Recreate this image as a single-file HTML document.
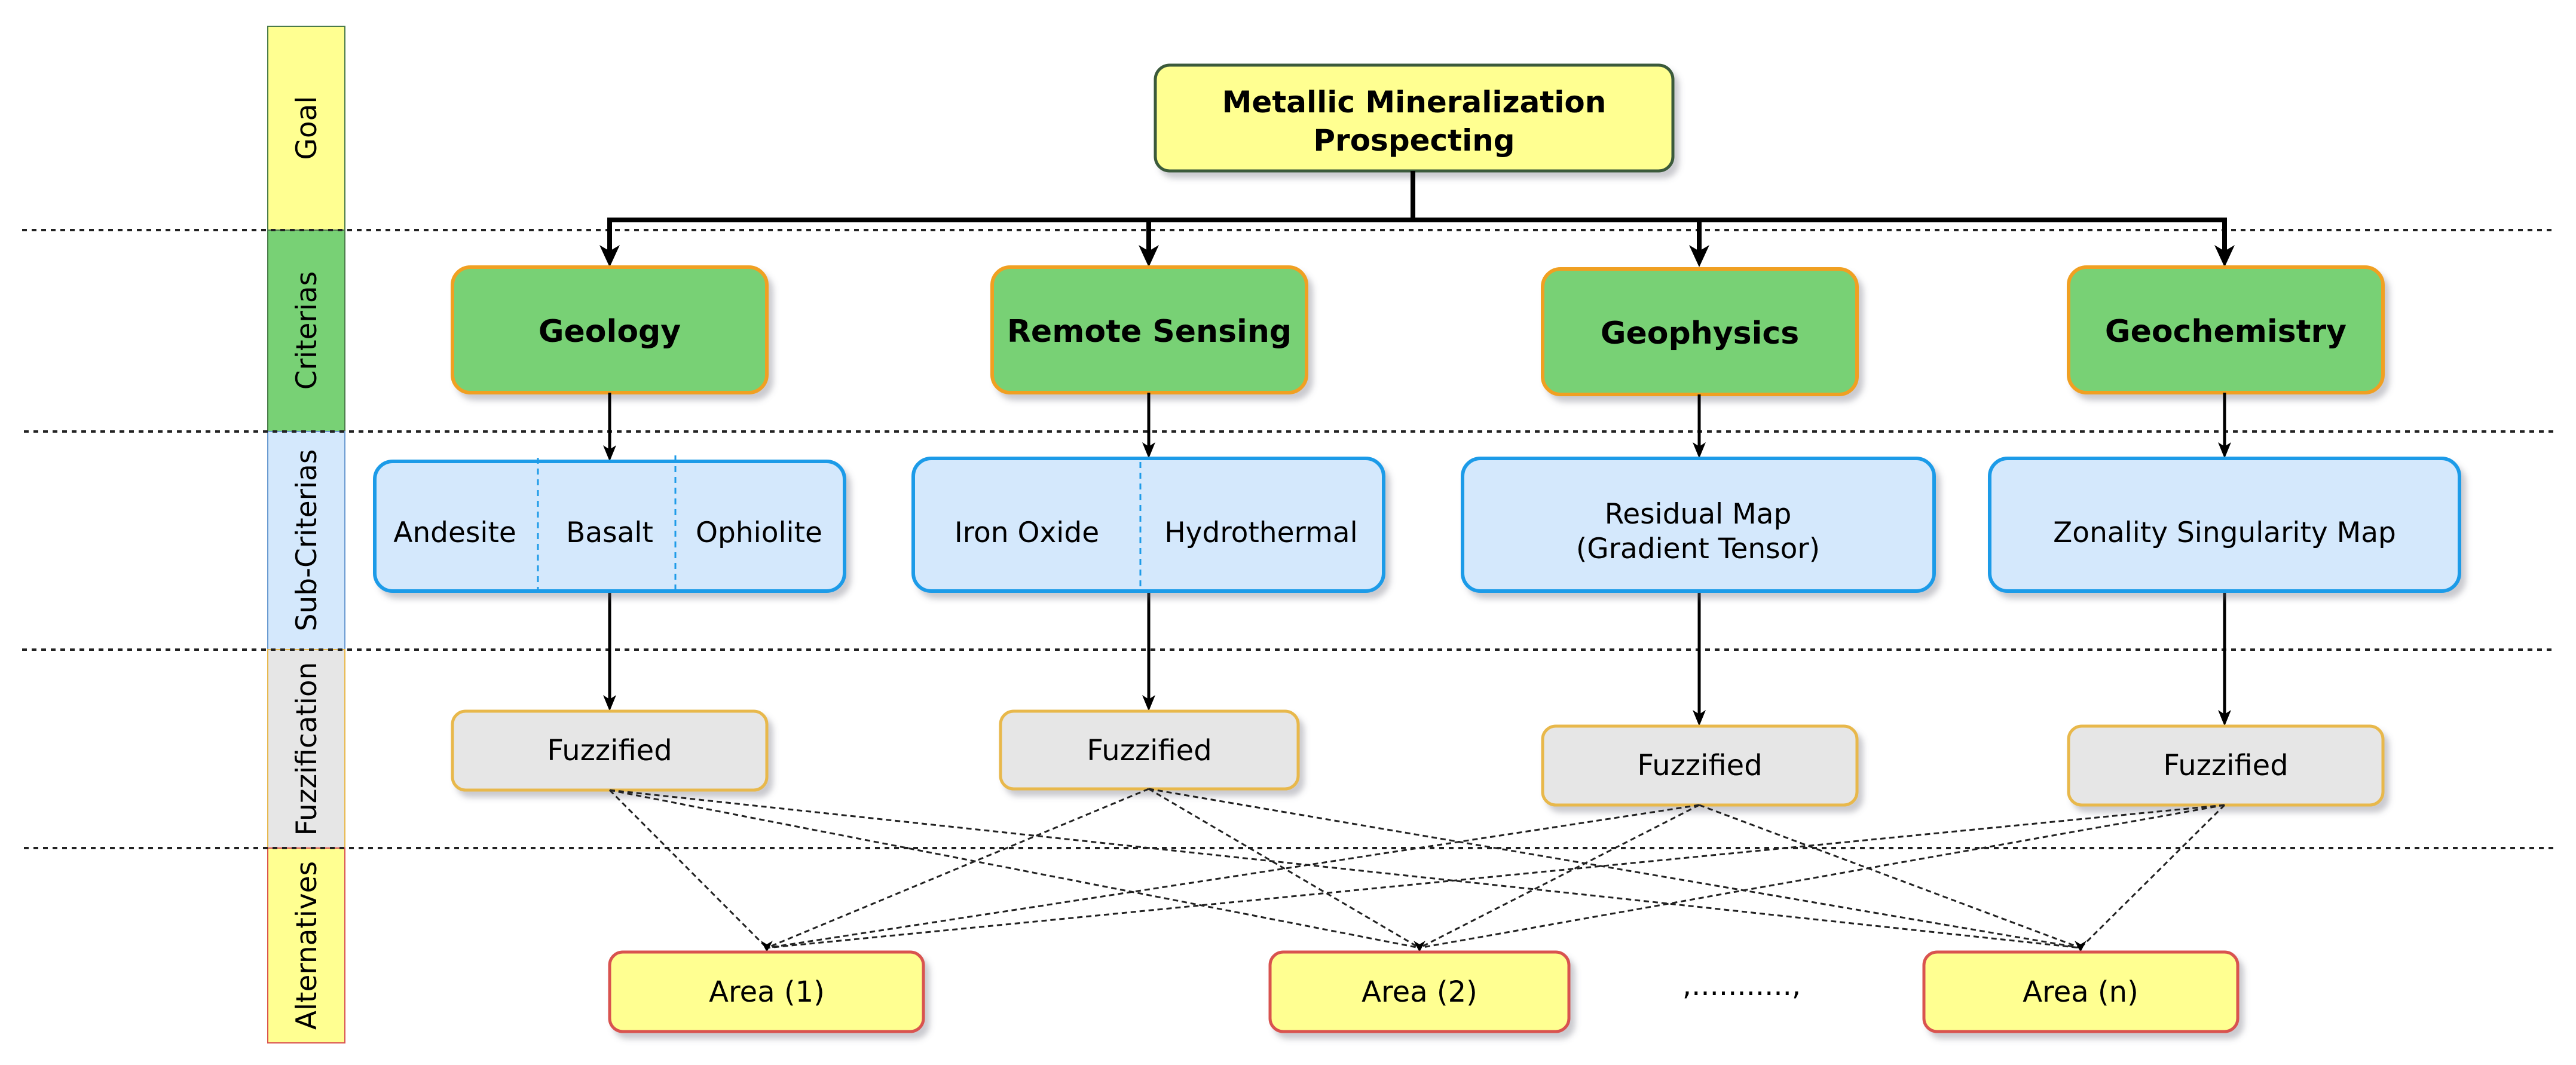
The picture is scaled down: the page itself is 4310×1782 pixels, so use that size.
<!DOCTYPE html>
<html><head><meta charset="utf-8"><style>
html,body{margin:0;padding:0;background:#fff;}
svg{display:block;}
text{font-family:"DejaVu Sans","Liberation Sans",sans-serif;fill:#000;}
</style></head><body>
<svg width="4310" height="1782" viewBox="0 0 4310 1782" xmlns="http://www.w3.org/2000/svg">
<defs>
<filter id="sh" x="-10%" y="-10%" width="130%" height="140%"><feDropShadow dx="8" dy="10" stdDeviation="5" flood-color="#667" flood-opacity="0.35"/></filter>
</defs>
<!-- side bar -->
<g stroke-width="2">
<rect x="448" y="44" width="129" height="341" fill="#ffff91" stroke="#4a7a4a"/>
<rect x="448" y="385" width="129" height="337" fill="#78d175" stroke="#4a7a4a"/>
<rect x="448" y="722" width="129" height="365" fill="#d4e8fc" stroke="#6a9ad0"/>
<rect x="448" y="1087" width="129" height="332" fill="#e6e6e6" stroke="#e8b84c"/>
<rect x="448" y="1419" width="129" height="326" fill="#ffff91" stroke="#d9534f"/>
</g>
<g font-size="47">
<text transform="translate(529,214) rotate(-90)" text-anchor="middle">Goal</text>
<text transform="translate(529,553) rotate(-90)" text-anchor="middle">Criterias</text>
<text transform="translate(529,904) rotate(-90)" text-anchor="middle">Sub-Criterias</text>
<text transform="translate(529,1253) rotate(-90)" text-anchor="middle">Fuzzification</text>
<text transform="translate(529,1582) rotate(-90)" text-anchor="middle">Alternatives</text>
</g>
<!-- dotted separators -->
<g stroke="#222" stroke-width="4" stroke-dasharray="8 8">
<line x1="37" y1="385" x2="4272" y2="385"/>
<line x1="40" y1="722" x2="4272" y2="722"/>
<line x1="37" y1="1087" x2="4272" y2="1087"/>
<line x1="40" y1="1419" x2="4272" y2="1419"/>
</g>
<!-- goal -->
<rect x="1933" y="109" width="866" height="177" rx="24" fill="#ffff91" stroke="#3a5a3a" stroke-width="5" filter="url(#sh)"/>
<text x="2366" y="188" font-size="50" font-weight="bold" text-anchor="middle">Metallic Mineralization</text>
<text x="2366" y="252" font-size="50" font-weight="bold" text-anchor="middle">Prospecting</text>
<!-- goal connectors -->
<g stroke="#000" stroke-width="8" fill="none">
<polyline points="2364,286 2364,368"/>
<polyline points="1020,430 1020,368 3722,368 3722,430"/>
<line x1="1922" y1="368" x2="1922" y2="430"/>
<line x1="2843" y1="368" x2="2843" y2="430"/>
</g>
<g fill="#000">
<path d="M1003,410 L1020,447 L1037,410 L1020,420Z"/>
<path d="M1905,410 L1922,447 L1939,410 L1922,420Z"/>
<path d="M2826,410 L2843,447 L2860,410 L2843,420Z"/>
<path d="M3705,410 L3722,447 L3739,410 L3722,420Z"/>
</g>
<!-- criteria -->
<g fill="#78d175" stroke="#f0a020" stroke-width="6" filter="url(#sh)">
<rect x="757" y="447" width="526" height="210" rx="30"/>
<rect x="1660" y="447" width="526" height="210" rx="30"/>
<rect x="2581" y="450" width="526" height="210" rx="30"/>
<rect x="3461" y="447" width="526" height="210" rx="30"/>
</g>
<g font-size="52" font-weight="bold" text-anchor="middle">
<text x="1020" y="572">Geology</text>
<text x="1923" y="572">Remote Sensing</text>
<text x="2844" y="575">Geophysics</text>
<text x="3724" y="572">Geochemistry</text>
</g>
<!-- arrows -->
<g stroke="#000" stroke-width="5">
<line x1="1020" y1="657" x2="1020" y2="755"/>
<line x1="1922" y1="657" x2="1922" y2="752"/>
<line x1="2843" y1="660" x2="2843" y2="752"/>
<line x1="3722" y1="657" x2="3722" y2="752"/>
<line x1="1020" y1="989" x2="1020" y2="1175"/>
<line x1="1922" y1="989" x2="1922" y2="1175"/>
<line x1="2843" y1="989" x2="2843" y2="1200"/>
<line x1="3722" y1="989" x2="3722" y2="1200"/>
</g>
<g fill="#000">
<path d="M1009,745 L1020,772 L1031,745 L1020,752Z"/>
<path d="M1911,740 L1922,767 L1933,740 L1922,747Z"/>
<path d="M2832,740 L2843,767 L2854,740 L2843,747Z"/>
<path d="M3711,740 L3722,767 L3733,740 L3722,747Z"/>
<path d="M1009,1163 L1020,1190 L1031,1163 L1020,1170Z"/>
<path d="M1911,1163 L1922,1190 L1933,1163 L1922,1170Z"/>
<path d="M2832,1188 L2843,1215 L2854,1188 L2843,1195Z"/>
<path d="M3711,1188 L3722,1215 L3733,1188 L3722,1195Z"/>
</g>
<!-- sub criteria -->
<g fill="#d4e8fc" stroke="#1e9be8" stroke-width="6" filter="url(#sh)">
<rect x="627" y="772" width="786" height="217" rx="30"/>
<rect x="1528" y="767" width="787" height="222" rx="30"/>
<rect x="2447" y="767" width="789" height="222" rx="30"/>
<rect x="3329" y="767" width="786" height="222" rx="30"/>
</g>
<g stroke="#1e9be8" stroke-width="3" stroke-dasharray="10 8">
<line x1="900" y1="766" x2="900" y2="998"/>
<line x1="1130" y1="762" x2="1130" y2="996"/>
<line x1="1908" y1="773" x2="1908" y2="985"/>
</g>
<g font-size="47" text-anchor="middle">
<text x="761" y="907">Andesite</text>
<text x="1020" y="907">Basalt</text>
<text x="1270" y="907">Ophiolite</text>
<text x="1718" y="907">Iron Oxide</text>
<text x="2110" y="907">Hydrothermal</text>
<text x="2841" y="876">Residual Map</text>
<text x="2841" y="934">(Gradient Tensor)</text>
<text x="3722" y="907">Zonality Singularity Map</text>
</g>
<!-- fuzzified -->
<g fill="#e6e6e6" stroke="#e8b84c" stroke-width="5" filter="url(#sh)">
<rect x="757" y="1190" width="526" height="132" rx="22"/>
<rect x="1674" y="1190" width="498" height="130" rx="22"/>
<rect x="2581" y="1215" width="526" height="132" rx="22"/>
<rect x="3461" y="1215" width="526" height="132" rx="22"/>
</g>
<g font-size="48" text-anchor="middle">
<text x="1020" y="1272">Fuzzified</text>
<text x="1923" y="1272">Fuzzified</text>
<text x="2844" y="1297">Fuzzified</text>
<text x="3724" y="1297">Fuzzified</text>
</g>
<!-- dashed connections -->
<g stroke="#222" stroke-width="3" stroke-dasharray="9 6" fill="none">
<line x1="1020" y1="1322" x2="1283" y2="1586"/>
<line x1="1020" y1="1322" x2="2375" y2="1586"/>
<line x1="1020" y1="1322" x2="3481" y2="1586"/>
<line x1="1922" y1="1320" x2="1283" y2="1586"/>
<line x1="1922" y1="1320" x2="2375" y2="1586"/>
<line x1="1922" y1="1320" x2="3481" y2="1586"/>
<line x1="2843" y1="1347" x2="1283" y2="1586"/>
<line x1="2843" y1="1347" x2="2375" y2="1586"/>
<line x1="2843" y1="1347" x2="3481" y2="1586"/>
<line x1="3722" y1="1347" x2="1283" y2="1586"/>
<line x1="3722" y1="1347" x2="2375" y2="1586"/>
<line x1="3722" y1="1347" x2="3481" y2="1586"/>
</g>
<g fill="#000">
<path d="M1273,1574 L1283,1593 L1293,1574 L1283,1580Z"/>
<path d="M2365,1574 L2375,1593 L2385,1574 L2375,1580Z"/>
<path d="M3471,1574 L3481,1593 L3491,1574 L3481,1580Z"/>
</g>
<!-- areas -->
<g fill="#ffff91" stroke="#d9534f" stroke-width="5" filter="url(#sh)">
<rect x="1020" y="1593" width="525" height="133" rx="22"/>
<rect x="2125" y="1593" width="500" height="133" rx="22"/>
<rect x="3219" y="1593" width="525" height="133" rx="22"/>
</g>
<g font-size="48" text-anchor="middle">
<text x="1283" y="1676">Area (1)</text>
<text x="2375" y="1676">Area (2)</text>
<text x="3481" y="1676">Area (n)</text>
<text x="2914" y="1665">,...........,</text>
</g>
</svg>
</body></html>
